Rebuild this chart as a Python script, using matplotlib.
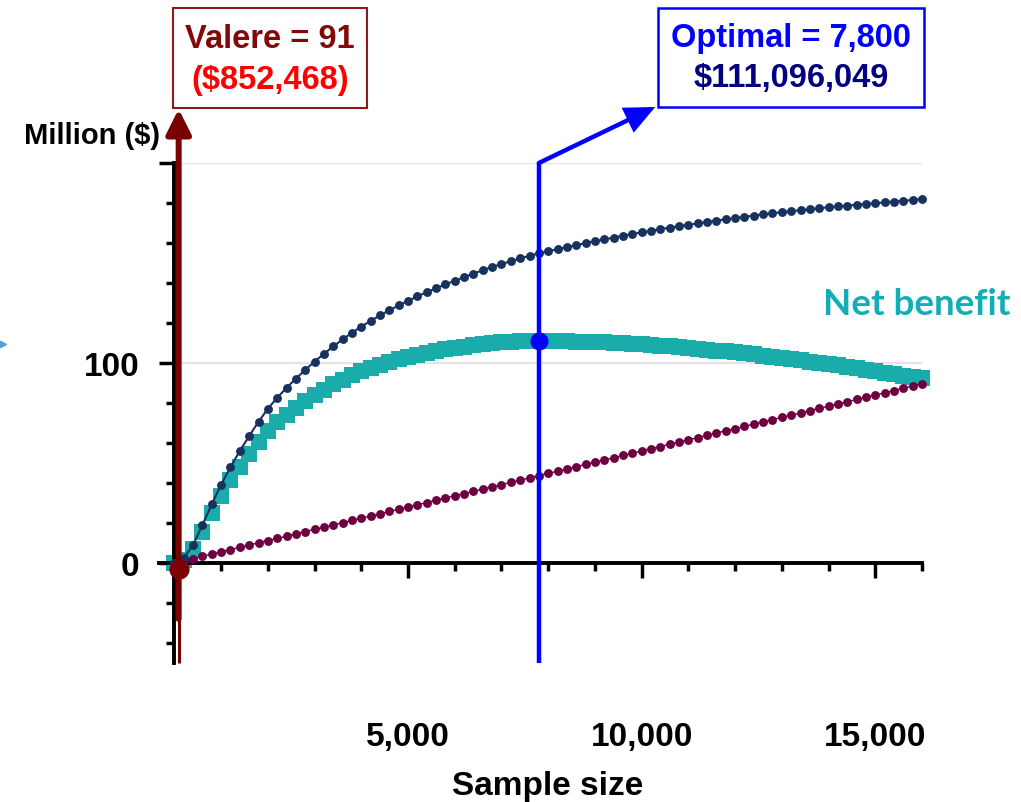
import matplotlib
matplotlib.use("Agg")
import matplotlib.pyplot as plt
from matplotlib.patches import Rectangle
from matplotlib.lines import Line2D

plt.rcParams['font.family'] = ['Liberation Sans', 'DejaVu Sans']

# ---------------- data ----------------
sample_size = list(range(0, 16001, 200))

benefit = [0.0, 2.5, 9.0, 19.0, 29.5, 39.2, 48.0, 56.0, 63.5, 70.6,
           77.2, 82.6, 87.6, 92.2, 96.6, 100.7, 104.6, 108.3, 111.8, 115.1,
           118.2, 121.1, 123.8, 126.4, 128.8, 131.1, 133.3, 135.4, 137.4, 139.3,
           141.1, 142.9, 144.7, 146.4, 148.0, 149.5, 150.9, 152.3, 153.6, 154.8,
           155.9, 156.9, 157.9, 158.9, 159.9, 160.9, 161.8, 162.7, 163.6, 164.5,
           165.3, 166.1, 166.9, 167.7, 168.4, 169.1, 169.8, 170.5, 171.2, 171.9,
           172.5, 173.1, 173.7, 174.3, 174.9, 175.4, 175.9, 176.4, 176.9, 177.4,
           177.9, 178.3, 178.7, 179.1, 179.5, 179.9, 180.3, 180.7, 181.1, 181.5, 181.9]

cost = [0.0, 1.1, 2.2, 3.4, 4.5, 5.6, 6.7, 7.8, 9.0, 10.1,
        11.2, 12.3, 13.4, 14.6, 15.7, 16.8, 17.9, 19.0, 20.2, 21.3,
        22.4, 23.5, 24.6, 25.8, 26.9, 28.0, 29.1, 30.2, 31.4, 32.5,
        33.6, 34.7, 35.8, 37.0, 38.1, 39.2, 40.3, 41.4, 42.6, 43.7,
        44.8, 45.9, 47.0, 48.2, 49.3, 50.4, 51.5, 52.6, 53.8, 54.9,
        56.0, 57.1, 58.2, 59.4, 60.5, 61.6, 62.7, 63.8, 65.0, 66.1,
        67.2, 68.3, 69.4, 70.6, 71.7, 72.8, 73.9, 75.0, 76.2, 77.3,
        78.4, 79.5, 80.6, 81.8, 82.9, 84.0, 85.1, 86.2, 87.4, 88.5, 89.6]

net_benefit = [0.0, 1.4, 6.8, 15.6, 25.0, 33.6, 41.3, 48.2, 54.5, 60.5,
               66.0, 70.3, 74.2, 77.6, 80.9, 83.9, 86.7, 89.3, 91.6, 93.8,
               95.8, 97.6, 99.2, 100.6, 101.9, 103.1, 104.2, 105.2, 106.0, 106.8,
               107.5, 108.2, 108.9, 109.4, 109.9, 110.3, 110.6, 110.9, 111.0, 111.1,
               111.1, 111.0, 110.9, 110.7, 110.6, 110.5, 110.3, 110.1, 109.8, 109.6,
               109.3, 109.0, 108.7, 108.3, 107.9, 107.5, 107.1, 106.7, 106.2, 105.8,
               105.3, 104.8, 104.3, 103.7, 103.2, 102.6, 102.0, 101.4, 100.7, 100.1,
               99.5, 98.8, 98.1, 97.3, 96.6, 95.9, 95.2, 94.5, 93.7, 93.0, 92.3]

valere_n, valere_net = 91, -3.0
optimal_n, optimal_net = 7800, 111.1

x_ticks = [0, 5000, 10000, 15000]
x_tick_labels = ['', '5,000', '10,000', '15,000']
x_minor = [1000, 2000, 3000, 4000, 6000, 7000, 8000, 9000, 11000, 12000, 13000, 14000, 16000]
y_ticks = [0, 100, 200]
y_tick_labels = ['0', '100', '']
y_minor = [-40, -20, 20, 40, 60, 80, 120, 140, 160, 180]
grid_levels = [100, 200]

# ---------------- figure ----------------
W, H = 1021, 803
fig = plt.figure(figsize=(W / 100, H / 100), dpi=100)
ax = fig.add_axes([159 / W, 1 - 664 / H, (922 - 159) / W, 500 / H])
ax.set_xlim(-330, 16000)
ax.set_ylim(-50, 200)

for s in ['top', 'right']:
    ax.spines[s].set_visible(False)
ax.spines['left'].set_position(('data', 0))
ax.spines['bottom'].set_position(('data', 0))
for s in ['left', 'bottom']:
    ax.spines[s].set_linewidth(2.8)
    ax.spines[s].set_zorder(3)

ax.set_xticks(x_ticks)
ax.set_xticklabels(x_tick_labels)
ax.set_xticks(x_minor, minor=True)
ax.set_yticks(y_ticks)
ax.set_yticklabels(y_tick_labels)
ax.set_yticks(y_minor, minor=True)
ax.tick_params(which='major', length=11, width=2.5, direction='out')
ax.tick_params(which='minor', length=6, width=2.5, direction='out')
ax.tick_params(axis='x', which='major', pad=103, labelsize=24)
ax.tick_params(axis='y', which='major', pad=14, labelsize=24)
for lab in ax.get_xticklabels() + ax.get_yticklabels():
    lab.set_fontweight('bold')

ax.set_xlabel('Sample size', fontsize=24, fontweight='bold')
ax.xaxis.label.set_va('center')
ax.xaxis.set_label_coords((548 - 159) / (922 - 159), (664 - 787) / 500)

# gridlines
ax.hlines(grid_levels, 0, 16000, colors='#e4e4e4', linewidth=1.6, zorder=0)

# series
ax.plot(sample_size, net_benefit, linestyle='none', marker='s', markersize=11.3,
        markeredgewidth=0, color='#1aabab', zorder=2, clip_on=False)
ax.plot(sample_size, cost, linestyle='-', linewidth=1.0, marker='o', markersize=6.4,
        markeredgewidth=0, color='#6e0042', zorder=4, clip_on=False)
ax.plot(sample_size, benefit, linestyle='-', linewidth=1.5, marker='o', markersize=6.4,
        markeredgewidth=0, color='#17325f', zorder=5, clip_on=False)

# optimal line + arrow
ax.plot([optimal_n, optimal_n], [-50, 200], color='#0000ff', linewidth=3.2,
        solid_capstyle='butt', zorder=6, clip_on=False)
ax.annotate('', xy=(10290, 228), xytext=(optimal_n, 200),
            arrowprops=dict(arrowstyle='-|>,head_length=1.1,head_width=0.5',
                            color='#0000ff', lw=3.2, shrinkA=0, shrinkB=0,
                            mutation_scale=15, joinstyle='miter'),
            annotation_clip=False, zorder=6)
ax.plot([optimal_n], [optimal_net], marker='o', markersize=13, color='#0000ff',
        markeredgewidth=0, zorder=7, clip_on=False)

# valere line + arrow
ax.plot([valere_n, valere_n], [-50, -28], color='#7a0000', linewidth=2.2,
        solid_capstyle='butt', zorder=8, clip_on=False)
ax.annotate('', xy=(valere_n, 227), xytext=(valere_n, -28),
            arrowprops=dict(arrowstyle='-|>,head_length=1.0,head_width=0.5',
                            color='#7a0000', lw=4.3, shrinkA=0, shrinkB=0,
                            mutation_scale=15),
            annotation_clip=False, zorder=8)
ax.plot([valere_n], [valere_net], marker='o', markersize=14.5, color='#7f0000',
        markeredgewidth=0, zorder=9, clip_on=False)

# annotation boxes
fig.add_artist(Rectangle((173 / W, 1 - 109 / H), (367 - 173) / W, 100 / H,
                         transform=fig.transFigure, facecolor='white',
                         edgecolor='#8b1a1a', linewidth=1.5))
fig.text(270 / W, 1 - 39 / H, 'Valere = 91', ha='center', va='center',
         fontsize=23.5, fontweight='bold', color='#800a0a')
fig.text(270 / W, 1 - 80 / H, '($852,468)', ha='center', va='center',
         fontsize=23.5, fontweight='bold', color='#ff0000')

fig.add_artist(Rectangle((658 / W, 1 - 108 / H), (924 - 658) / W, 99 / H,
                         transform=fig.transFigure, facecolor='white',
                         edgecolor='#0000ff', linewidth=1.8))
fig.text(791 / W, 1 - 39 / H, 'Optimal = 7,800', ha='center', va='center',
         fontsize=23.5, fontweight='bold', color='#0000ff')
fig.text(791 / W, 1 - 79 / H, '$111,096,049', ha='center', va='center',
         fontsize=23.5, fontweight='bold', color='#000080')

# other texts
fig.text(92 / W, 1 - 136 / H, 'Million ($)', ha='center', va='center',
         fontsize=21, fontweight='bold', color='black')
fig.text(823 / W, 1 - 305 / H, 'Net benefit', ha='left', va='center',
         fontsize=26.5, fontweight='bold', color='#12adb5',
         family=['Lato', 'DejaVu Sans'])

# small arrow fragment at the left edge
fig.add_artist(Line2D([1 / W], [1 - 345 / H], marker='>', markersize=7,
                      color='#5b9bd5', linestyle='none', transform=fig.transFigure))

fig.savefig('out.png', dpi=100)
